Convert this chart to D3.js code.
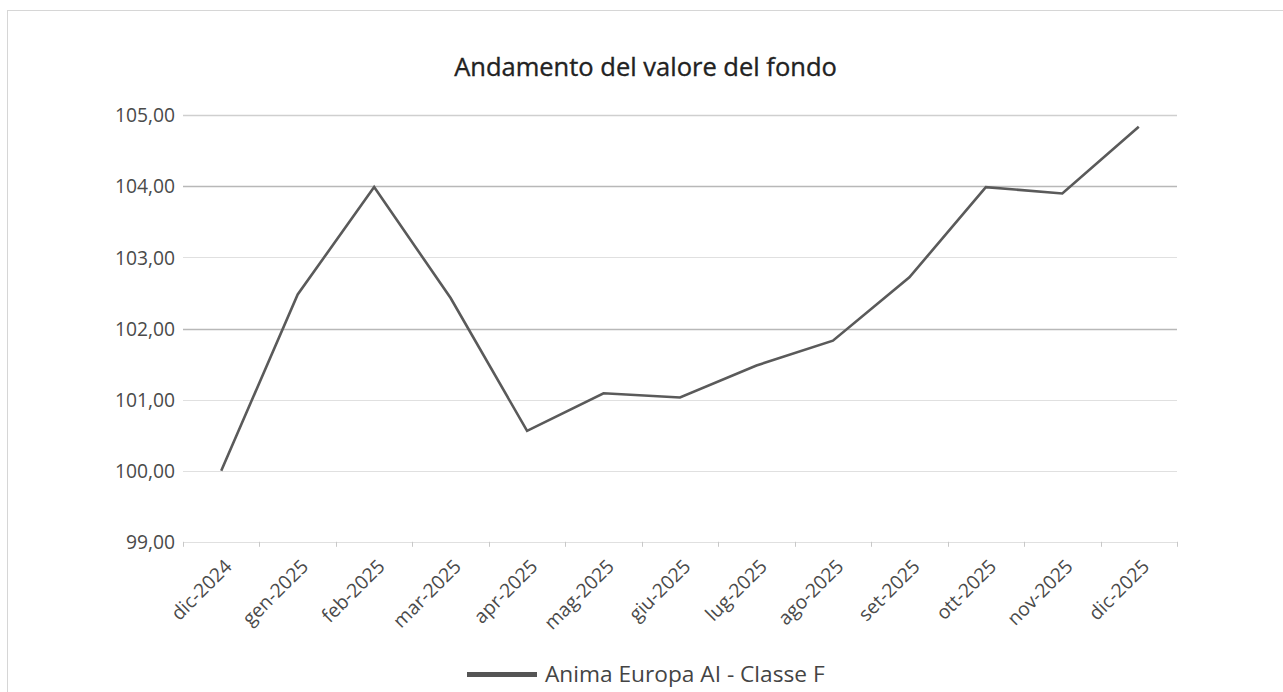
<!DOCTYPE html>
<html>
<head>
<meta charset="utf-8">
<script src="https://cdn.jsdelivr.net/npm/d3@7"></script>
<style>
  html, body { margin: 0; padding: 0; background: #fff; }
  svg { display: block; }
  text { font-family: "Open Sans", "Noto Sans", sans-serif; }
</style>
</head>
<body>
<svg id="chart" width="1283" height="692"></svg>
<script>
const categories = ["dic-2024","gen-2025","feb-2025","mar-2025","apr-2025","mag-2025","giu-2025","lug-2025","ago-2025","set-2025","ott-2025","nov-2025","dic-2025"];
const values = [100.00, 102.48, 103.99, 102.43, 100.56, 101.09, 101.03, 101.48, 101.83, 102.72, 103.99, 103.90, 104.84];
const yTicks = [99, 100, 101, 102, 103, 104, 105];
const seriesName = "Anima Europa AI - Classe F";
const title = "Andamento del valore del fondo";

(function () {
const svg = d3.select("#chart");
const W = 1283, H = 692;
const pLeft = 183, pRight = 1177, pTop = 115.3, pBottom = 541.8;

// frame
svg.append("rect").attr("x", 7.5).attr("y", 10.5).attr("width", W + 10).attr("height", H + 10)
  .attr("fill", "#fff").attr("stroke", "#d6d6d6").attr("stroke-width", 1);

const x = d3.scaleBand().domain(categories).range([pLeft, pRight]).paddingInner(0).paddingOuter(0);
const y = d3.scaleLinear().domain([99, 105]).range([pBottom, pTop]);

const fmt = v => d3.format(".2f")(v).replace(".", ",");

// gridlines
const darker = new Set([104, 102]);
svg.append("g").selectAll("line").data(yTicks).join("line")
  .attr("x1", pLeft).attr("x2", pRight)
  .attr("y1", d => Math.round(y(d)) + 0.5).attr("y2", d => Math.round(y(d)) + 0.5)
  .attr("stroke", d => darker.has(d) ? "#b8b8b8" : (d === 105 ? "#cfcfcf" : "#e0e0e0"))
  .attr("stroke-width", d => darker.has(d) || d === 105 ? 1.3 : 1);

// y axis labels
const yAxis = d3.axisLeft(y).tickValues(yTicks).tickFormat(fmt).tickSize(0).tickPadding(8);
const gy = svg.append("g").attr("transform", `translate(${pLeft},0)`).call(yAxis);
gy.select(".domain").remove();
gy.selectAll("text").attr("fill", "#4a4a4a").style("font-size", "19.3px").attr("dy", "0.34em")
  .style("font-family", '"Open Sans", sans-serif');

// x axis ticks (at band boundaries)
const boundaries = categories.map(c => x(c)).concat([pRight]);
svg.append("g").selectAll("line").data(boundaries).join("line")
  .attr("x1", d => Math.round(d) + 0.5).attr("x2", d => Math.round(d) + 0.5)
  .attr("y1", pBottom).attr("y2", pBottom + 5)
  .attr("stroke", "#c8c8c8").attr("stroke-width", 1);

// x labels
svg.append("g").selectAll("text").data(categories).join("text")
  .attr("transform", d => `translate(${x(d) + x.bandwidth() / 2 + 7},${pBottom + 21}) rotate(-45)`)
  .attr("text-anchor", "end").attr("dy", "0.35em")
  .attr("fill", "#4a4a4a").style("font-size", "19.3px")
  .text(d => d);

// line
const line = d3.line().x((d, i) => x(categories[i]) + x.bandwidth() / 2).y(d => y(d));
svg.append("path").datum(values).attr("d", line)
  .attr("fill", "none").attr("stroke", "#5a5a5a").attr("stroke-width", 2.6)
  .attr("stroke-linejoin", "miter");

// title
svg.append("text").attr("x", 645.5).attr("y", 76).attr("text-anchor", "middle")
  .attr("fill", "#222").attr("stroke", "#222").attr("stroke-width", 0.35)
  .style("font-size", "25.5px").style("font-weight", "400")
  .text(title);

// legend
const lg = svg.append("g");
lg.append("line").attr("x1", 467).attr("x2", 537).attr("y1", 674.5).attr("y2", 674.5)
  .attr("stroke", "#555").attr("stroke-width", 5);
lg.append("text").attr("x", 545).attr("y", 682).attr("fill", "#444").style("font-size", "22.7px")
  .text(seriesName);
})();
</script>
</body>
</html>
